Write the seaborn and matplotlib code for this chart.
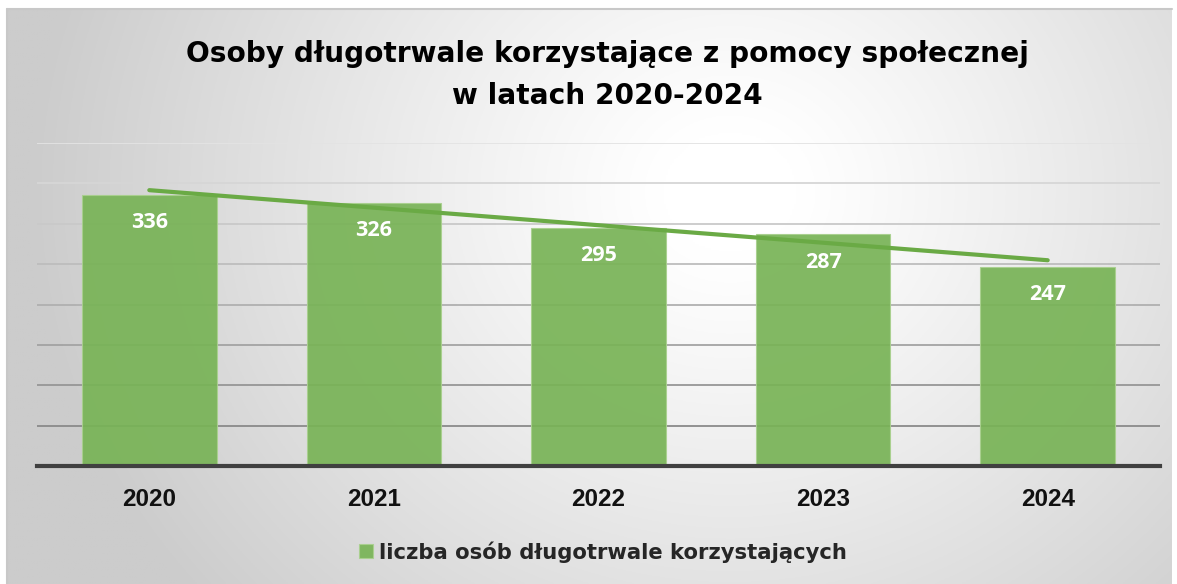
import numpy as np
import pandas as pd
import matplotlib
matplotlib.use("Agg")
import matplotlib.pyplot as plt
import seaborn as sns

# data
years = ["2020", "2021", "2022", "2023", "2024"]
values = [336, 326, 295, 287, 247]
series_name = "liczba osób długotrwale korzystających"
title = "Osoby długotrwale korzystające z pomocy społecznej\nw latach 2020-2024"

bar_color = "#78b356"
trend_color = "#6aaa45"

sns.set_theme(style="white")
plt.rcParams["font.family"] = ["Liberation Sans", "DejaVu Sans"]

W, H = 1177, 584
fig = plt.figure(figsize=(W / 100, H / 100), dpi=100)
fig.patch.set_facecolor("white")

# gradient background panel (light spot upper centre-right, grey corners)
bg = fig.add_axes([7 / W, 0, (1172 - 7) / W, (H - 9) / H])
yy, xx = np.mgrid[0:300, 0:600]
cx, cy = 0.62 * 600, 0.68 * 300
r = np.sqrt(((xx - cx) / 600) ** 2 + ((yy - cy) / 300 * 0.55) ** 2)
r = r / r.max()
shade = 1.0 - 0.2 * np.clip((r - 0.08) / 0.75, 0, 1) ** 1.1
bg.imshow(np.dstack([shade] * 3), aspect="auto", extent=[0, 1, 0, 1], origin="lower")
bg.set_axis_off()
fig.add_artist(plt.Line2D([7 / W, 1172 / W], [1 - 9 / H, 1 - 9 / H],
                          transform=fig.transFigure, color="#c8c8c8", lw=1.5))
fig.add_artist(plt.Line2D([7 / W, 7 / W], [0, 1 - 9 / H],
                          transform=fig.transFigure, color="#c8c8c8", lw=1.5))

ax = fig.add_axes([37 / W, (H - 466) / H, (1160 - 37) / W, (466 - 143) / H])
ax.patch.set_alpha(0)

df = pd.DataFrame({"rok": years, "liczba": values})
sns.barplot(data=df, x="rok", y="liczba", color=bar_color, width=0.6,
            saturation=1, alpha=0.92, ax=ax, zorder=2, label=series_name)

for p in ax.patches:
    p.set_edgecolor("#a9d08e")
    p.set_linewidth(0.8)

# linear trend line
xs = np.arange(len(values))
k, b = np.polyfit(xs, values, 1)
ax.plot(xs, k * xs + b, color=trend_color, lw=3, zorder=4, solid_capstyle="round")

for i, v in enumerate(values):
    ax.text(i, v - 28 / 0.8075, str(v), ha="center", va="center",
            color="white", fontsize=15.5, fontweight="bold", zorder=5,
            family=["Open Sans", "DejaVu Sans"])

ax.set_ylim(0, 400)
ax.set_xlim(-0.5, 4.5)
# gridlines fade from dark at the bottom to light at the top
grid_levels = np.arange(50, 401, 50)
for j, gy in enumerate(grid_levels):
    g = 0.54 + (0.89 - 0.54) * j / (len(grid_levels) - 1)
    ax.axhline(gy, color=(g, g, g), lw=1.3, zorder=1)
ax.tick_params(axis="y", left=False, labelleft=False)
ax.tick_params(axis="x", bottom=False, pad=10)
for lbl in ax.get_xticklabels():
    lbl.set_fontsize(17.5)
    lbl.set_fontweight("bold")
    lbl.set_color("#111111")
ax.set_xlabel("")
ax.set_ylabel("")
for s in ["top", "right", "left"]:
    ax.spines[s].set_visible(False)
ax.spines["bottom"].set_color("#404040")
ax.spines["bottom"].set_linewidth(3)
ax.spines["bottom"].set_zorder(6)

leg = ax.legend(loc="center", bbox_to_anchor=(603 / W, (H - 552) / H),
                bbox_transform=fig.transFigure, frameon=False,
                handlelength=0.65, handleheight=0.65, handletextpad=0.3,
                prop={"family": ["DejaVu Sans"], "weight": "bold", "size": 15.2})

fig.text(607 / W, 1 - 75 / H, title, ha="center", va="center",
         fontsize=20.2, fontweight="bold", linespacing=1.6,
         family=["DejaVu Sans"], color="#000000")

fig.savefig("out.png", dpi=100)
